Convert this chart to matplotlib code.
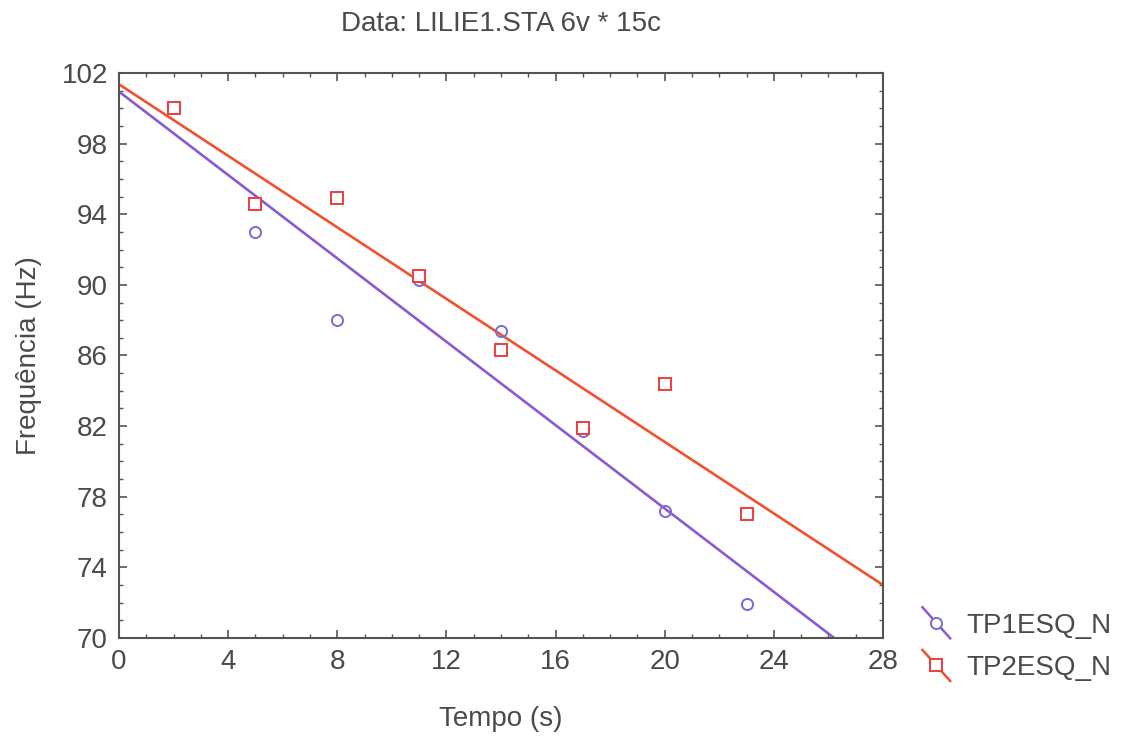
import numpy as np
import matplotlib
matplotlib.use("Agg")
import matplotlib.pyplot as plt
from matplotlib.lines import Line2D
from matplotlib.legend_handler import HandlerBase

plt.rcParams['font.family'] = ['Liberation Sans', 'DejaVu Sans']

# data
tempo = [2, 5, 8, 11, 14, 17, 20, 23]
tp1 = [100.0, 93.0, 88.0, 90.3, 87.4, 81.7, 77.2, 71.9]
tp2 = [100.0, 94.6, 94.9, 90.5, 86.3, 81.9, 84.4, 77.0]
labels = ["TP1ESQ_N", "TP2ESQ_N"]

txt = '#4a4a46'
c1_line, c1_mk = '#8a5ad0', '#7a6ad8'
c2_line, c2_mk = '#f25030', '#f03c3c'


class DiagHandler(HandlerBase):
    # diagonal line with the marker in the middle, like the original legend
    def create_artists(self, legend, orig_handle, xdescent, ydescent,
                       width, height, fontsize, trans):
        x0 = -xdescent
        ln = Line2D([x0, x0 + width], [height * 1.3, -height * 0.3],
                    color=orig_handle.get_color(), lw=1.8, transform=trans)
        mk = Line2D([x0 + width / 2], [height * 0.5], marker=orig_handle.get_marker(),
                    ms=8, mfc='white', mec=orig_handle.get_markeredgecolor(),
                    mew=1.4, ls='none', transform=trans)
        return [ln, mk]


fig = plt.figure(figsize=(11.26, 7.41), dpi=100)
ax = fig.add_axes([0.1057, 0.139, 0.6785, 0.7625])

xs = np.array([0, 28])
for y, cl, cm, mk, z in [(tp1, c1_line, c1_mk, 'o', 3), (tp2, c2_line, c2_mk, 's', 4)]:
    b, a = np.polyfit(tempo, y, 1)
    ax.plot(xs, a + b * xs, color=cl, lw=1.9, zorder=2)
    # squares are white-filled and sit over the circles
    ax.plot(tempo, y, ls='none', marker=mk, ms=8, mfc='white' if mk == 's' else 'none',
            mec=cm, mew=1.4, zorder=z)

ax.set_xlim(0, 28)
ax.set_ylim(70, 102)
ax.set_xticks(np.arange(0, 29, 4))
ax.set_yticks(np.arange(70, 103, 4))
ax.set_xticks(np.arange(0, 29, 1), minor=True)
ax.set_yticks(np.arange(70, 103, 1), minor=True)
ax.tick_params(which='both', direction='in', top=True, right=True, colors='#555550',
               labelcolor=txt, labelsize=20)
ax.tick_params(which='major', length=6, width=1.2, pad=8)
ax.tick_params(which='minor', length=3, width=1.0)
for s in ax.spines.values():
    s.set_color('#555550')
    s.set_linewidth(1.5)

ax.set_xlabel("Tempo (s)", fontsize=20, color=txt, labelpad=22)
ax.set_ylabel("Frequência (Hz)", fontsize=20, color=txt, labelpad=14)
ax.set_title("Data: LILIE1.STA 6v * 15c", fontsize=20, color=txt, pad=30)

handles = [Line2D([], [], color=c1_line, marker='o', mec=c1_mk),
           Line2D([], [], color=c2_line, marker='s', mec=c2_mk)]
fig.legend(handles, labels, handler_map={Line2D: DiagHandler()},
           loc='lower left', bbox_to_anchor=(0.797, 0.047), frameon=False,
           fontsize=20, labelcolor=txt, handlelength=1.0, handletextpad=0.6,
           labelspacing=0.6)

fig.savefig("out.png", dpi=100)
